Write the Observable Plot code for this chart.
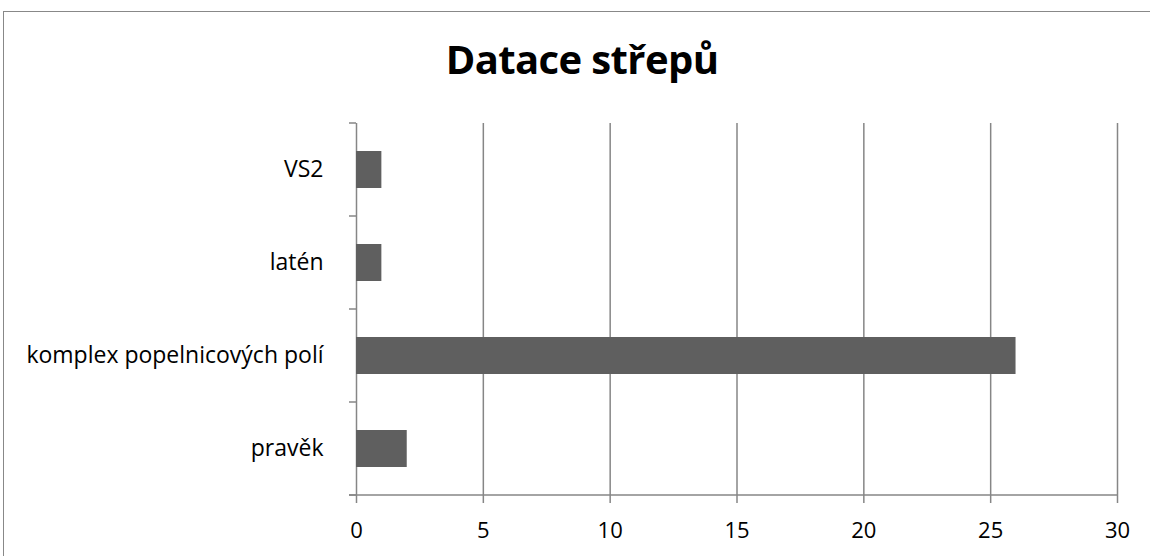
<!DOCTYPE html>
<html>
<head>
<meta charset="utf-8">
<script src="https://cdn.jsdelivr.net/npm/d3@7"></script>
<script src="https://cdn.jsdelivr.net/npm/@observablehq/plot@0.6"></script>
<style>
  html, body { margin: 0; padding: 0; background: #fff; overflow: hidden; }
  #wrap { position: relative; width: 1150px; height: 556px; font-family: "Open Sans", sans-serif; }
  #border { position: absolute; left: 3px; top: 11px; width: 1160px; height: 560px; border: 1px solid #888; box-sizing: border-box; }
  #title { position: absolute; left: 0; width: 1164px; top: 31px; text-align: center; font-size: 40px; line-height: normal; font-weight: bold; color: #000; letter-spacing: -0.6px; }
  #chart { position: absolute; left: 0; top: 0; }
</style>
</head>
<body>
<div id="wrap">
  <div id="border"></div>
  <div id="title">Datace střepů</div>
  <div id="chart"></div>
</div>
<script>
const categories = ["VS2", "latén", "komplex popelnicových polí", "pravěk"];
const values = [1, 1, 26, 2];
const xTicks = [0, 5, 10, 15, 20, 25, 30];

const data = categories.map((c, i) => ({category: c, value: values[i]}));
const gridColor = "#868686";

function bandTicks(index, scales, vals, dims) {
  const y = scales.y, x = scales.x;
  const ys = categories.map(c => y(c));
  const bw = y.bandwidth ? y.bandwidth() : 0;
  const step = ys.length > 1 ? ys[1] - ys[0] : bw;
  const half = (step - bw) / 2;
  const bounds = ys.map(v => v - half);
  bounds.push(ys[ys.length - 1] + bw + half);
  const g = d3.create("svg:g").attr("stroke", gridColor).attr("stroke-width", 1.5);
  const x0 = x(0);
  for (const b of bounds) {
    g.append("line").attr("x1", x0 - 7).attr("x2", x0).attr("y1", b).attr("y2", b);
  }
  g.append("line").attr("x1", x0 - 7).attr("x2", x(30)).attr("y1", bounds[bounds.length-1]).attr("y2", bounds[bounds.length-1]);
  return g.node();
}

const plot = Plot.plot({
  width: 1150,
  height: 556,
  marginLeft: 356,
  marginRight: 33,
  marginTop: 123,
  marginBottom: 60,
  style: {fontFamily: "'Open Sans', sans-serif", fontSize: "22px", color: "#000", background: "transparent", overflow: "visible"},
  x: {domain: [0, 30], ticks: xTicks, label: null},
  y: {domain: categories, paddingInner: 0.6, paddingOuter: 0.3, label: null},
  marks: [
    Plot.ruleX(xTicks, {stroke: gridColor, strokeWidth: 1.5, strokeOpacity: 1}),
    Plot.barX(data, {x: "value", y: "category", fill: "#5f5f5f"}),
    bandTicks,
    Plot.axisX({ticks: xTicks, tickSize: 7, tickPadding: 19, stroke: gridColor, strokeWidth: 1.5, fontSize: 22, label: null, strokeOpacity: 1}),
    Plot.axisY({tickSize: 0, tickPadding: 33, fontSize: 23, label: null})
  ]
});
document.getElementById("chart").appendChild(plot);
</script>
</body>
</html>
